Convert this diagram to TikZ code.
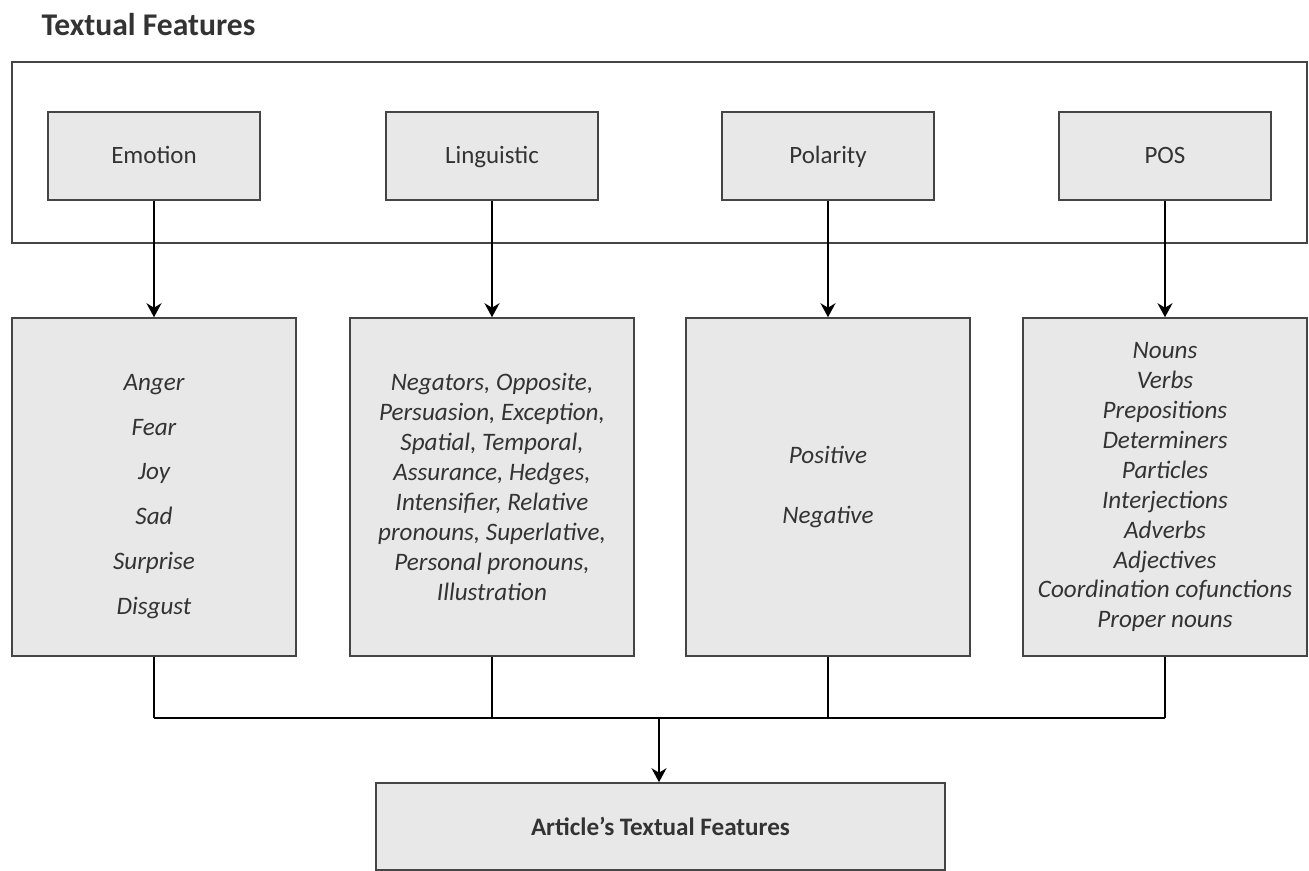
\documentclass[tikz,border=0pt]{standalone}
\usepackage{fontspec}
\setmainfont{Carlito}
\usepackage{xcolor}
\usetikzlibrary{arrows.meta}
\definecolor{boxfill}{HTML}{E8E8E8}
\definecolor{boxline}{HTML}{454545}
\definecolor{boxtext}{HTML}{333333}
\tikzset{
featbox/.style={
	draw=boxline,
	fill=boxfill,
	text=boxtext,
	line width=0.9pt,
	align=center,
	inner sep=0pt,
	font=\fontsize{14.2}{17}\selectfont
},
headbox/.style={featbox, minimum width=4.24cm, minimum height=1.76cm,
	text height=1.85ex, text depth=0.15ex},
listbox/.style={featbox, minimum width=5.68cm, minimum height=6.76cm,
	font=\fontsize{14.3}{17.07}\selectfont\itshape},
linkline/.style={line width=1.1pt, draw=black},
linkarrow/.style={linkline, -{Stealth[length=2.8mm,width=3mm,inset=0.9mm]}}
}

\begin{document}
\begin{tikzpicture}[x=0.02cm,y=0.02cm]
\useasboundingbox (0,0) rectangle (1309,871);

% title and frame of the feature groups
\node[font=\fontsize{18}{21}\selectfont\bfseries, text=boxtext] (title) at (148.5,846) {Textual Features};
\draw[draw=boxline, line width=0.9pt] (12,809) rectangle (1307,628);

% upper row: feature groups
\node[headbox] (emo) at (154,715) {Emotion};
\node[headbox] (lin) at (492,715) {Linguistic};
\node[headbox] (pol) at (828,715) {Polarity};
\node[headbox] (pos) at (1165,715) {POS};

% middle row: feature lists
\node[listbox] (emolist) at (154,384)
 {\rule{0pt}{20pt}Anger\\[8.5pt]Fear\\[8.5pt]Joy\\[8.5pt]Sad\\[8.5pt]Surprise\\[8.5pt]Disgust};
\node[listbox] (linlist) at (492,384)
 {Negators, Opposite,\\Persuasion, Exception,\\Spatial, Temporal,\\Assurance, Hedges,\\Intensifier, Relative\\pronouns, Superlative,\\Personal pronouns,\\Illustration};
\node[listbox] (pollist) at (828,384)
 {Positive\\[17pt]Negative};
\node[listbox] (poslist) at (1165,384)
 {Nouns\\Verbs\\Prepositions\\Determiners\\Particles\\Interjections\\Adverbs\\Adjectives\\Coordination cofunctions\\Proper nouns};

% bottom: combined features
\node[featbox, minimum width=11.38cm, minimum height=1.74cm,
 font=\fontsize{14.3}{17}\selectfont\bfseries] (art) at (660.5,44.5) {Article’s Textual Features};

% connectors
\foreach \a/\b in {emo/emolist, lin/linlist, pol/pollist, pos/poslist}
 \draw[linkarrow] (\a.south) -- (\b.north);

\coordinate (busL) at (emolist.south |- 0,153);
\coordinate (busR) at (poslist.south |- 0,153);
\coordinate (busM) at (659,153);
\draw[linkline] (busL) -- (busR);
\foreach \b in {emolist, linlist, pollist, poslist}
 \draw[linkline] (\b.south) -- (\b.south |- busM);
\draw[linkarrow] (busM) -- (busM |- art.north);
\end{tikzpicture}
\end{document}
